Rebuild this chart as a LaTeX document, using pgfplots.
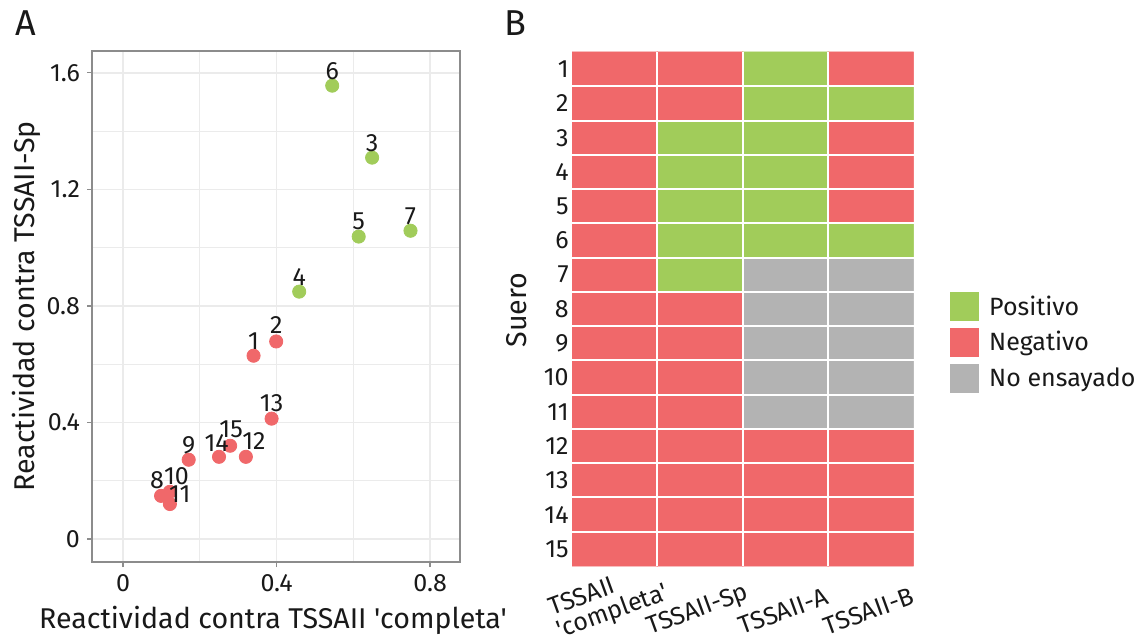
\documentclass[border=0pt]{standalone}
\usepackage{fontspec}
\setmainfont{Fira Sans}[Ligatures=TeXOff]
\usepackage{pgfplots}
\pgfplotsset{compat=1.18}
\usepackage{pgfplotstable}
\definecolor{cpos}{HTML}{A1CC5A}
\definecolor{cneg}{HTML}{F0686A}
\definecolor{cnas}{HTML}{B3B3B3}
\definecolor{gridc}{HTML}{EBEBEB}
\definecolor{framec}{HTML}{8C8C8C}
\newcommand{\fs}{\fontsize{12.5}{15}\selectfont}
\newcommand{\fl}{\fontsize{14.3}{17}\selectfont}

\pgfplotstableread{
x y lab dx dy
0.545 1.556 6 0 3.3
0.649 1.309 3 0 3
0.614 1.038 5 0 3.3
0.749 1.058 7 0 3
0.459 0.849 4 0 3.3
}\greenpts

\pgfplotstableread{
x y lab dx dy
0.399 0.678 2 0 4.2
0.340 0.629 1 0 3
0.387 0.413 13 0 3.7
0.279 0.320 15 0.5 4
0.250 0.282 14 -1.2 2.7
0.320 0.282 12 4 3.8
0.171 0.272 9 0 3.3
0.099 0.148 8 -2 3.8
0.122 0.162 10 3.3 3.8
0.122 0.120 11 5 0.7
}\redpts

\pgfplotstableread{
x y c
1 1 1
2 1 1
3 1 0
4 1 1
1 2 1
2 2 1
3 2 0
4 2 0
1 3 1
2 3 0
3 3 0
4 3 1
1 4 1
2 4 0
3 4 0
4 4 1
1 5 1
2 5 0
3 5 0
4 5 1
1 6 1
2 6 0
3 6 0
4 6 0
1 7 1
2 7 0
3 7 2
4 7 2
1 8 1
2 8 1
3 8 2
4 8 2
1 9 1
2 9 1
3 9 2
4 9 2
1 10 1
2 10 1
3 10 2
4 10 2
1 11 1
2 11 1
3 11 2
4 11 2
1 12 1
2 12 1
3 12 1
4 12 1
1 13 1
2 13 1
3 13 1
4 13 1
1 14 1
2 14 1
3 14 1
4 14 1
1 15 1
2 15 1
3 15 1
4 15 1
}\heat

\begin{document}
\begin{tikzpicture}[x=1pt,y=1pt]
\path[use as bounding box] (0,0) rectangle (569,318);
\node[font=\fontsize{18}{20}\selectfont, inner sep=0pt, text=black!90] at (12.8,306.5) {A};
\node[font=\fontsize{18}{20}\selectfont, inner sep=0pt, text=black!90] at (257.8,306.5) {B};

\begin{axis}[
  at={(46pt,37pt)}, anchor=south west,
  width=184pt, height=255.5pt, scale only axis,
  xmin=-0.081, xmax=0.878, ymin=-0.079, ymax=1.675,
  xtick={0,0.4,0.8}, minor xtick={0.2,0.6},
  ytick={0,0.4,0.8,1.2,1.6}, minor ytick={0.2,0.6,1.0,1.4},
  xticklabels={0,0.4,0.8},
  yticklabels={0,0.4,0.8,1.2,1.6},
  grid=both,
  major grid style={color=gridc, line width=0.8pt},
  minor grid style={color=gridc, line width=0.45pt},
  axis line style={color=framec, line width=0.6pt},
  tick pos=left, tick align=outside,
  major tick length=2.5pt, minor tick length=0pt,
  tick style={color=framec, line width=0.6pt},
  tick label style={font=\fs, text=black!90},
  /pgf/number format/assume math mode=true,
  xlabel={Reactividad contra TSSAII 'completa'},
  ylabel={Reactividad contra TSSAII-Sp},
  label style={font=\fl, text=black!90},
  every axis x label/.append style={at={(axis description cs:0.492,-0.1135)}, anchor=center},
  every axis y label/.append style={at={(axis description cs:-0.177,0.5)}, anchor=center},
  clip=false,
]
\addplot[only marks, mark=*, mark size=3.3pt, color=cneg,
  point meta=explicit symbolic,
  visualization depends on={\thisrow{dx} \as \dx},
  visualization depends on={\thisrow{dy} \as \dy},
  nodes near coords,
  every node near coord/.style={anchor=base, xshift=\dx pt, yshift=\dy pt, font=\fs, text=black!90, inner sep=0pt}]
  table[x=x, y=y, meta=lab] {\redpts};
\addplot[only marks, mark=*, mark size=3.3pt, color=cpos,
  point meta=explicit symbolic,
  visualization depends on={\thisrow{dx} \as \dx},
  visualization depends on={\thisrow{dy} \as \dy},
  nodes near coords,
  every node near coord/.style={anchor=base, xshift=\dx pt, yshift=\dy pt, font=\fs, text=black!90, inner sep=0pt}]
  table[x=x, y=y, meta=lab] {\greenpts};
\end{axis}

\begin{axis}[
  at={(286pt,35pt)}, anchor=south west,
  width=170.75pt, height=257pt, scale only axis,
  xmin=0.5, xmax=4.5, ymin=0.5, ymax=15.5, y dir=reverse,
  enlargelimits=false,
  xtick={1,2,3,4}, ytick={1,2,...,15},
  xticklabels={{\raisebox{5pt}[\height][\depth]{\begin{tabular}{@{}l@{}}TSSAII\\[-3pt]'completa'\end{tabular}}\hspace{10pt}}, TSSAII-Sp, TSSAII-A, TSSAII-B},
  minor xtick={1.5,2.5,3.5}, minor ytick={1.5,2.5,...,14.5},
  xminorgrids, yminorgrids,
  minor grid style={color=white, line width=1pt},
  major tick length=0pt, minor tick length=0pt,
  axis line style={draw=none},
  axis on top,
  tick label style={font=\fs, text=black!90},
  yticklabel style={inner sep=1.5pt},
  xticklabel style={anchor=center, inner sep=0.5pt, xshift=-1pt, yshift=-22.5pt, rotate=20},
  /pgf/number format/assume math mode=true,
  ylabel={Suero},
  label style={font=\fl, text=black!90},
  every axis y label/.append style={at={(axis description cs:-0.161,0.498)}, anchor=center},
  colormap={tssa}{rgb255=(161,204,90) rgb255=(240,104,106) rgb255=(179,179,179)},
  colormap access=piecewise constant,
  point meta min=0, point meta max=2,
  legend style={at={(axis description cs:1.107,0.533)}, anchor=north west,
    draw=none, fill=none, inner sep=0pt, column sep=5pt, row sep=3.5pt,
    font=\fs, nodes={inner sep=0pt, text=black!90}},
  legend cell align=left,
]
\addlegendimage{legend image code/.code={\fill[cpos] (0pt,-7pt) rectangle (14pt,7pt);}}
\addlegendentry{Positivo}
\addlegendimage{legend image code/.code={\fill[cneg] (0pt,-7pt) rectangle (14pt,7pt);}}
\addlegendentry{Negativo}
\addlegendimage{legend image code/.code={\fill[cnas] (0pt,-7pt) rectangle (14pt,7pt);}}
\addlegendentry{No ensayado}
\addplot[matrix plot*, mesh/cols=4, point meta=explicit, forget plot]
  table[x=x, y=y, meta=c] {\heat};
\end{axis}
\end{tikzpicture}
\end{document}
